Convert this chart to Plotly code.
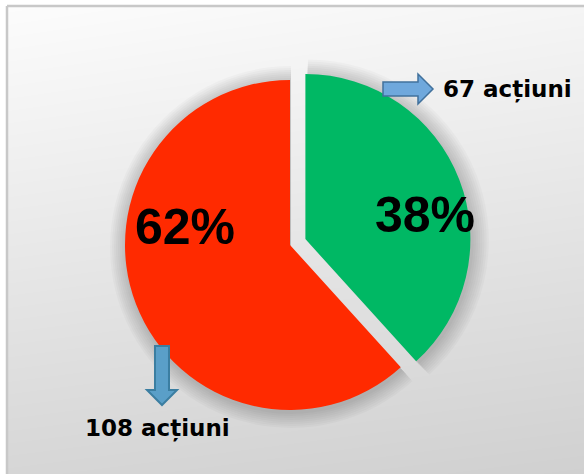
import plotly.graph_objects as go

# date
categorii = ["realizate", "nerealizate"]
actiuni = [67, 108]
culori = ["#00B864", "#FF2A00"]
eticheta_unitate = "acțiuni"

W, H = 584, 474
total = sum(actiuni)
procente = [round(v * 100 / total) for v in actiuni]


def px(x):
    return x / W


def py(y):
    return 1 - y / H


def domeniu(cx, cy, r, pull):
    d = r * (1 + pull)
    return dict(x=[px(cx - d), px(cx + d)], y=[py(cy + d), py(cy - d)])


fig = go.Figure()

# fundal cu gradient (alb sus-stanga -> gri jos-dreapta)
fig.add_trace(go.Heatmap(
    z=[[214, 208], [252, 245]], x=[0, 1], y=[0, 1],
    zsmooth="best", zmin=200, zmax=255, showscale=False, hoverinfo="skip",
    colorscale=[[0, "rgb(200,200,200)"], [1, "rgb(255,255,255)"]],
))

# umbra difuza in jurul diagramei
for extra in [16, 14, 12, 10, 8, 6, 4, 2]:
    fig.add_trace(go.Pie(
        values=actiuni, sort=False, direction="clockwise", rotation=0,
        pull=[0.1, 0], textinfo="none", hoverinfo="skip", showlegend=False,
        marker=dict(colors=["rgba(0,0,0,0.022)"] * 2, line=dict(width=0)),
        domain=domeniu(291, 247, 165 + extra, 0.1),
    ))

fig.add_trace(go.Pie(
    labels=categorii, values=actiuni, sort=False, direction="clockwise",
    rotation=0, pull=[0.1, 0], textinfo="none", hoverinfo="label+value",
    marker=dict(colors=culori, line=dict(width=0)), showlegend=False,
    domain=domeniu(290, 245, 165, 0.1),
))

# procente
font_proc = dict(family="Liberation Sans, Arial, sans-serif", size=50, color="black")
for xx, yy, p in [(425, 215, procente[0]), (185, 227, procente[1])]:
    fig.add_annotation(x=px(xx), y=py(yy), text=f"<b>{p}%</b>", showarrow=False,
                       xref="paper", yref="paper", xanchor="center", yanchor="middle",
                       font=font_proc)

# etichete cu numar de actiuni
font_et = dict(family="DejaVu Sans, Verdana, sans-serif", size=23, color="black")
for xx, yy, v in [(507, 89, actiuni[0]), (157, 428, actiuni[1])]:
    fig.add_annotation(x=px(xx), y=py(yy), text=f"<b>{v} {eticheta_unitate}</b>",
                       showarrow=False, xref="paper", yref="paper",
                       xanchor="center", yanchor="middle", font=font_et)


def cale(puncte):
    return "M " + " L ".join(f"{px(x):.5f},{py(y):.5f}" for x, y in puncte) + " Z"


# sageata spre dreapta
fig.add_shape(type="path", xref="paper", yref="paper", layer="above",
              path=cale([(383, 82), (418, 82), (418, 74), (433, 89), (418, 104), (418, 96), (383, 96)]),
              fillcolor="#6FA8DC", line=dict(color="#41719C", width=1.5))
# sageata in jos
fig.add_shape(type="path", xref="paper", yref="paper", layer="above",
              path=cale([(155, 346), (169, 346), (169, 390), (177, 390), (162, 405), (147, 390), (155, 390)]),
              fillcolor="#5A9FC8", line=dict(color="#3B7EA1", width=2))

# chenar (stanga si sus)
fig.add_shape(type="line", xref="paper", yref="paper", layer="above",
              x0=px(7), x1=px(7), y0=0, y1=py(6), line=dict(color="#C8C8C8", width=2.5))
fig.add_shape(type="line", xref="paper", yref="paper", layer="above",
              x0=px(7), x1=1, y0=py(6), y1=py(6), line=dict(color="#C8C8C8", width=2.5))

fig.update_layout(
    width=W, height=H,
    margin=dict(l=0, r=0, t=0, b=0),
    paper_bgcolor="white", plot_bgcolor="white",
    xaxis=dict(domain=[px(7), 1], range=[0, 1], visible=False, fixedrange=True),
    yaxis=dict(domain=[0, py(6)], range=[0, 1], visible=False, fixedrange=True),
)

fig.write_html("out.html", config={"displayModeBar": False},
               post_script="document.body.style.margin='0';")
